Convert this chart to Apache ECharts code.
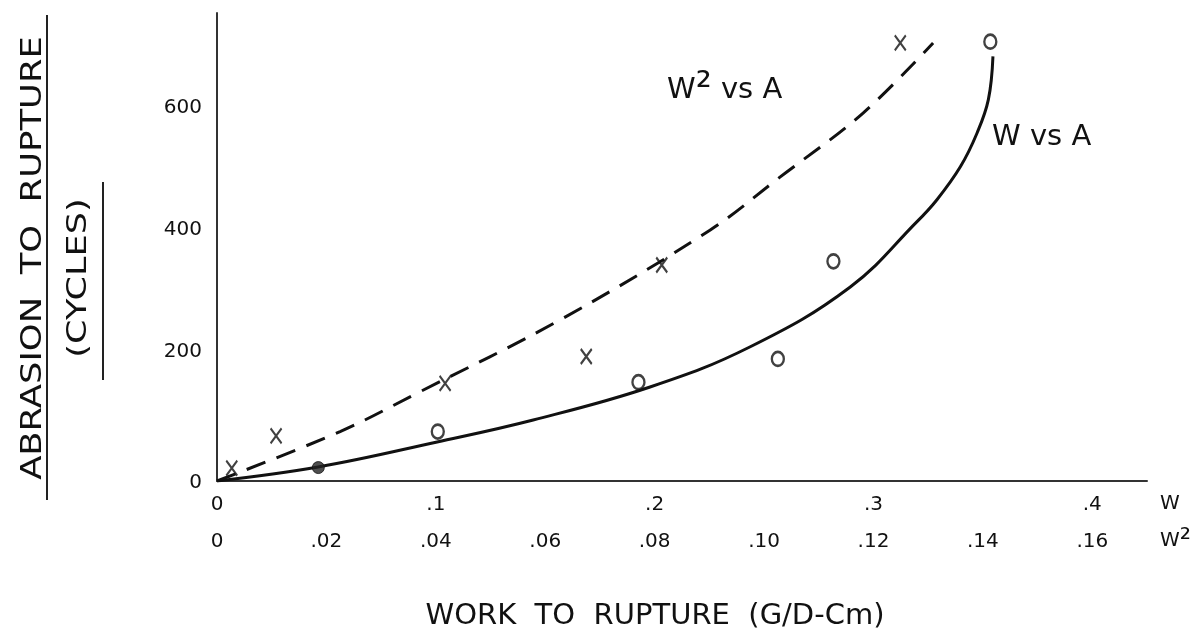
<!DOCTYPE html>
<html>
<head>
<meta charset="utf-8">
<script src="https://cdn.jsdelivr.net/npm/echarts@6/dist/echarts.min.js"></script>
<style>
  html, body { margin: 0; padding: 0; background: #ffffff; }
  #chart { width: 1201px; height: 636px; }
</style>
</head>
<body>
<div id="chart"></div>
<script>
// ---- tick labels ----
const aTickValues = [0, 200, 400, 600];
const aTickLabels = ['0', '200', '400', '600'];
const wTickValues = [0, 0.1, 0.2, 0.3, 0.4];
const wTickLabels = ['0', '.1', '.2', '.3', '.4'];
const w2TickValues = [0, 0.02, 0.04, 0.06, 0.08, 0.10, 0.12, 0.14, 0.16];
const w2TickLabels = ['0', '.02', '.04', '.06', '.08', '.10', '.12', '.14', '.16'];

// ---- W vs A : measured points (open circles) ----
const circleW = [0.1009, 0.1926, 0.2563, 0.2817, 0.3534];
const circleA = [81, 162, 200, 360, 720];
// filled point on the W vs A curve
const filledW = [0.0463];
const filledA = [22];

// ---- W^2 vs A : measured points (crosses) ----
const crossW2 = [0.0027, 0.0108, 0.0417, 0.0675, 0.0813, 0.1249];
const crossA = [21, 74, 160, 204, 354, 718];

// ---- fitted curves ----
const solidCurveW = [0, 0.0462, 0.1006, 0.1445, 0.1979, 0.2437, 0.2894, 0.3199, 0.329, 0.3397, 0.3473, 0.3525, 0.3546];
const solidCurveA = [0, 23, 64, 100, 154, 220, 318, 425, 461, 515, 570, 625, 696];
const dashedCurveW2 = [0, 0.0225, 0.0366, 0.0627, 0.0901, 0.1029, 0.1181, 0.1309];
const dashedCurveA = [0, 81, 144, 264, 411, 498, 603, 718];

const zip = (xs, ys) => xs.map((x, i) => [x, ys[i]]);
const pick = (values, labels) => (v) => {
  const i = values.findIndex(t => Math.abs(t - v) < 1e-6);
  return i >= 0 ? labels[i] : '';
};

const FONT = '"DejaVu Sans", "Liberation Sans", sans-serif';
const INK = '#111111';
const TICK = 20;

const chart = echarts.init(document.getElementById('chart'), null, { renderer: 'canvas' });

chart.setOption({
  backgroundColor: '#ffffff',
  animation: false,
  grid: {
    left: 217, right: 54, top: 13, bottom: 155,
    containLabel: false, outerBoundsMode: 'none'
  },
  xAxis: [
    {
      type: 'value', min: 0, max: 0.425, interval: 0.1, position: 'bottom',
      axisLine: { show: true, onZero: false, lineStyle: { color: '#333333', width: 2 } },
      axisTick: { show: false },
      splitLine: { show: false },
      axisLabel: {
        formatter: pick(wTickValues, wTickLabels),
        margin: 14, color: INK, fontSize: TICK, fontFamily: FONT,
        showMaxLabel: false
      }
    },
    {
      type: 'value', min: 0, max: 0.17, interval: 0.02, position: 'bottom', offset: 0,
      axisLine: { show: false, onZero: false },
      axisTick: { show: false },
      splitLine: { show: false },
      axisLabel: {
        formatter: pick(w2TickValues, w2TickLabels),
        margin: 51, color: INK, fontSize: TICK, fontFamily: FONT,
        showMaxLabel: false
      }
    }
  ],
  yAxis: {
    type: 'value', min: 0, max: 767, interval: 200,
    axisLine: { show: true, onZero: false, lineStyle: { color: '#333333', width: 2 } },
    axisTick: { show: false },
    splitLine: { show: false },
    axisLabel: {
      margin: 15, color: INK, fontSize: TICK, fontFamily: FONT,
      formatter: (v) => {
        const s = pick(aTickValues, aTickLabels)(v);
        if (s === '') return '';
        return v === 0 ? '{z|' + s + '}' : '{n|' + s + '}';
      },
      rich: {
        n: { fontSize: TICK, fontFamily: FONT, color: INK, padding: [0, 0, 14, 0] },
        z: { fontSize: TICK, fontFamily: FONT, color: INK, padding: [4, 0, 0, 0] }
      }
    }
  },
  series: [
    {
      name: 'W vs A', type: 'line', xAxisIndex: 0, yAxisIndex: 0,
      data: zip(solidCurveW, solidCurveA),
      smooth: 0.4, showSymbol: false, symbol: 'none',
      lineStyle: { color: INK, width: 3 }, z: 2
    },
    {
      name: 'W² vs A', type: 'line', xAxisIndex: 1, yAxisIndex: 0,
      data: zip(dashedCurveW2, dashedCurveA),
      smooth: 0.35, showSymbol: false, symbol: 'none',
      lineStyle: { color: INK, width: 3, type: [20, 12] }, z: 2
    },
    {
      name: 'W points', type: 'scatter', xAxisIndex: 0, yAxisIndex: 0,
      data: zip(circleW, circleA),
      symbol: 'circle', symbolSize: [12, 14],
      itemStyle: { color: '#ffffff', borderColor: INK, borderWidth: 2.5 }, z: 3
    },
    {
      name: 'W filled', type: 'scatter', xAxisIndex: 0, yAxisIndex: 0,
      data: zip(filledW, filledA),
      symbol: 'circle', symbolSize: 12,
      itemStyle: { color: '#222', borderColor: INK, borderWidth: 1 }, z: 3
    },
    {
      name: 'W² points', type: 'scatter', xAxisIndex: 1, yAxisIndex: 0,
      data: zip(crossW2, crossA),
      symbol: 'path://M0,0L10,14M10,0L0,14', symbolSize: [11, 15], symbolKeepAspect: false,
      itemStyle: { color: 'transparent', borderColor: INK, borderWidth: 2.2 }, z: 3
    }
  ],
  graphic: [
    {
      type: 'text', x: 33, y: 258, rotation: Math.PI / 2, scaleX: 1.22,
      style: { text: 'ABRASION  TO  RUPTURE', font: '29px ' + FONT, fill: INK,
               textAlign: 'center', textVerticalAlign: 'middle' }
    },
    {
      type: 'line', shape: { x1: 47, y1: 15, x2: 47, y2: 500 },
      style: { stroke: '#222', lineWidth: 2 }
    },
    {
      type: 'text', x: 79, y: 278, rotation: Math.PI / 2, scaleX: 1.3,
      style: { text: '(CYCLES)', font: '27px ' + FONT, fill: INK,
               textAlign: 'center', textVerticalAlign: 'middle' }
    },
    {
      type: 'line', shape: { x1: 103, y1: 182, x2: 103, y2: 380 },
      style: { stroke: '#222', lineWidth: 2 }
    },
    {
      type: 'text', x: 655, y: 616,
      style: { text: 'WORK  TO  RUPTURE  (G/D-Cm)', font: '29px ' + FONT, fill: INK,
               textAlign: 'center', textVerticalAlign: 'middle' }
    },
    {
      type: 'text', x: 667, y: 90,
      style: { text: 'W{s|²} vs A', font: '29px ' + FONT, fill: INK,
               textAlign: 'left', textVerticalAlign: 'middle',
               rich: { s: { font: '40px ' + FONT, fill: INK } } }
    },
    {
      type: 'text', x: 992, y: 137,
      style: { text: 'W vs A', font: '29px ' + FONT, fill: INK,
               textAlign: 'left', textVerticalAlign: 'middle' }
    },
    {
      type: 'text', x: 1160, y: 504,
      style: { text: 'W', font: TICK + 'px ' + FONT, fill: INK,
               textAlign: 'left', textVerticalAlign: 'middle' }
    },
    {
      type: 'text', x: 1160, y: 541,
      style: { text: 'W{s|²}', font: TICK + 'px ' + FONT, fill: INK,
               textAlign: 'left', textVerticalAlign: 'middle',
               rich: { s: { font: '28px ' + FONT, fill: INK } } }
    }
  ]
});
</script>
</body>
</html>
